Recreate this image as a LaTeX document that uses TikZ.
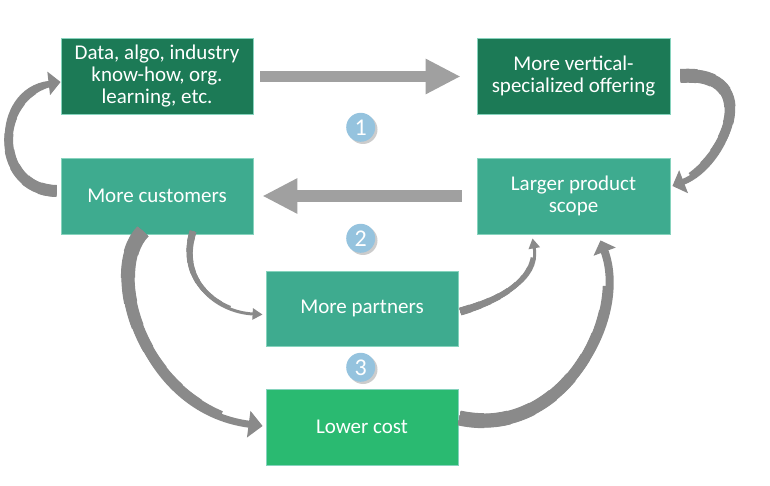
\documentclass[tikz,border=0pt]{standalone}
\usepackage{fontspec}
\setmainfont{Carlito}
\usetikzlibrary{arrows.meta}
\definecolor{darkg}{HTML}{1C7A56}
\definecolor{tealg}{HTML}{3EAB8F}
\definecolor{brightg}{HTML}{2ABA71}
\definecolor{edgeg}{HTML}{86D3BD}
\definecolor{arrowgray}{HTML}{A0A0A0}
\definecolor{curvegray}{HTML}{8A8A8A}
\definecolor{badge}{HTML}{95C3DE}
% tapered curved connector: #1 start, #2 c1, #3 c2, #4 end, #5 approx length, #6 start width, #7 end width, #8 tip
\newcommand\taperarrow[8]{%
  \foreach \k in {1,...,9}{%
    \pgfmathsetmacro\tw{#6-(#6-#7)*(\k-1)/9}%
    \pgfmathsetmacro\tl{#5*\k/10}%
    \draw[draw=curvegray,line width=\tw pt,dash pattern=on \tl pt off 3000pt] #1 .. controls #2 and #3 .. #4;
  }%
  \draw[draw=curvegray,line width=#7pt,-{Triangle[#8]}] #1 .. controls #2 and #3 .. #4;
}
\begin{document}
\begin{tikzpicture}[x=1pt,y=-1pt,
  box/.style={draw=edgeg,line width=0.8pt,minimum width=192pt,minimum height=76pt,
    text=white,align=center,font=\fontsize{21}{22}\selectfont,inner sep=2pt},
  bigarrow/.style={draw=arrowgray,line width=11.5pt,
    -{Triangle[length=35pt,width=33pt]}},
  numbadge/.style={circle,fill=badge,minimum size=29pt,inner sep=0pt,text=white,
    font=\fontsize{24}{24}\selectfont},
  badgeshadow/.style={circle,fill=black!20,minimum size=29pt,inner sep=0pt}]
\useasboundingbox (0,0) rectangle (770,486);
% boxes
\node[box,fill=darkg] (A) at (157,76) {Data, algo, industry\\know-how, org.\\learning, etc.};
\node[box,fill=darkg,minimum width=193pt] (B) at (573.5,76) {More vertical-\\specialized offering};
\node[box,fill=tealg] (C) at (157,196) {More customers};
\node[box,fill=tealg,minimum width=193pt] (D) at (573.5,196) {Larger product\\scope};
\node[box,fill=tealg,minimum height=75pt] (E) at (362,308.5) {More partners};
\node[box,fill=brightg] (F) at (362,427) {Lower cost};
% badges
\node[badgeshadow] (s1) at (363,129.5) {};
\node[numbadge] (n1) at (360.7,127.3) {1};
\node[badgeshadow] (s2) at (363,240.5) {};
\node[numbadge] (n2) at (360.7,238.3) {2};
\node[badgeshadow] (s3) at (363,369.5) {};
\node[numbadge] (n3) at (360.7,367.3) {3};
% straight arrows
\draw[bigarrow,shorten <=7pt,shorten >=16pt] (A.east) ++(0,0.5) coordinate (a1) (a1) -- (a1 -| B.west);
\draw[bigarrow,shorten <=15pt,shorten >=9pt] (D.west) -- (C.east);
% curved arrows
\taperarrow{([shift={(-4,-5)}]C.west)}{(-8,190)}{(-8,90)}{([shift={(0,6)}]A.west)}{170}{12}{5}{length=12pt,width=23pt}
\taperarrow{([shift={(10,0)}]B.east)}{(765,70)}{(727,165)}{([shift={(2,-10)}]D.east)}{165}{14}{6}{length=12pt,width=24pt}
\taperarrow{([xshift=-14pt,yshift=3pt]C.south)}{(104,270)}{(140,410)}{([shift={(-3,-1)}]F.west)}{250}{15}{7}{length=14pt,width=26pt}
\taperarrow{([xshift=36pt,yshift=3pt]C.south)}{(178,280)}{(215,312)}{([shift={(-3,6)}]E.west)}{105}{7}{3}{length=10pt,width=11pt}
\taperarrow{([shift={(2,3)}]E.east)}{(500,300)}{(540,280)}{([shift={(-41,4)}]D.south)}{105}{8}{3}{length=10pt,width=11pt}
\taperarrow{([shift={(1,-9)}]F.east)}{(560,440)}{(630,320)}{([shift={(27,6)}]D.south)}{250}{15}{8}{length=12pt,width=23pt}
\end{tikzpicture}
\end{document}
